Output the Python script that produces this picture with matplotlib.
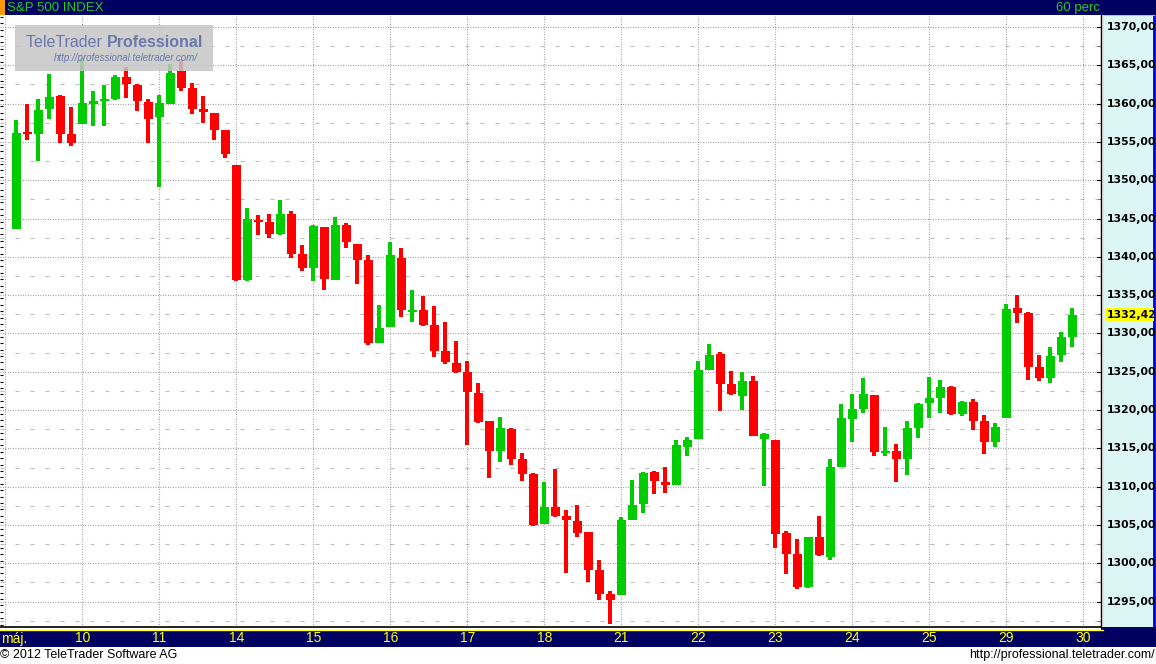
import numpy as np
import matplotlib
matplotlib.use("Agg")
import matplotlib.pyplot as plt
from matplotlib.patches import Rectangle
from matplotlib.transforms import blended_transform_factory
from matplotlib import font_manager

# hourly bars, S&P 500, 9 May .. 29 May 2012 (7 bars per day, first bar of 9 May off screen)
opens = [1343.7, 1356.3, 1356.0, 1359.3, 1361.0, 1356.0,
         1357.4, 1360.0, 1360.4, 1360.6, 1363.5, 1362.4, 1360.2,
         1358.3, 1360.0, 1364.3, 1362.0, 1359.3, 1358.8, 1356.6,
         1352.0, 1337.0, 1344.8, 1344.5, 1343.0, 1345.6, 1340.4,
         1338.5, 1343.9, 1337.0, 1344.2, 1341.7, 1339.6, 1328.8,
         1330.85, 1339.85, 1332.85, 1333.07, 1331.1, 1327.7, 1326.15,
         1325.0, 1322.2, 1318.6, 1314.7, 1317.5, 1313.6, 1311.7,
         1305.1, 1307.35, 1306.2, 1305.5, 1304.1, 1299.1, 1296.0,
         1295.9, 1305.7, 1307.7, 1311.9, 1310.6, 1310.2, 1315.2,
         1316.2, 1325.2, 1327.3, 1323.4, 1321.85, 1323.8, 1316.2,
         1316.1, 1304.0, 1301.2, 1296.9, 1303.4, 1300.8, 1312.6,
         1318.85, 1320.1, 1322.0, 1314.4, 1314.66, 1313.6, 1317.66,
         1320.9, 1321.6, 1323.0, 1319.5, 1321.06, 1318.6, 1315.85,
         1319.0, 1333.3, 1332.7, 1325.6, 1324.2, 1327.2, 1329.5]
highs = [1357.9, 1359.9, 1360.6, 1363.9, 1361.1, 1359.6,
         1365.9, 1361.6, 1362.4, 1363.7, 1364.8, 1362.6, 1360.6,
         1361.1, 1365.2, 1365.8, 1362.7, 1361.0, 1358.8, 1356.6,
         1352.0, 1346.4, 1345.5, 1345.6, 1347.4, 1346.0, 1341.5,
         1344.2, 1343.9, 1345.2, 1344.4, 1341.7, 1340.2, 1333.7,
         1341.9, 1341.15, 1335.7, 1334.9, 1333.6, 1331.5, 1329.0,
         1326.4, 1323.5, 1318.6, 1319.1, 1317.7, 1314.4, 1311.8,
         1310.6, 1312.3, 1307.0, 1307.6, 1304.1, 1300.4, 1296.4,
         1306.05, 1310.9, 1311.9, 1312.05, 1312.6, 1316.1, 1316.5,
         1326.4, 1328.6, 1327.6, 1325.1, 1325.0, 1324.45, 1317.0,
         1316.1, 1304.2, 1303.2, 1303.44, 1306.2, 1313.6, 1320.8,
         1322.1, 1324.2, 1322.0, 1317.8, 1315.6, 1318.6, 1320.9,
         1324.3, 1323.9, 1323.15, 1321.2, 1321.45, 1319.36, 1318.3,
         1333.85, 1335.0, 1332.8, 1327.2, 1328.2, 1330.2, 1333.3]
lows = [1343.6, 1355.3, 1352.5, 1358.0, 1354.8, 1354.5,
        1357.4, 1357.1, 1357.1, 1360.5, 1360.8, 1359.1, 1354.9,
        1349.1, 1360.0, 1361.6, 1358.65, 1357.5, 1355.25, 1352.9,
        1336.8, 1336.9, 1342.85, 1342.4, 1342.8, 1339.9, 1338.2,
        1336.9, 1335.7, 1337.0, 1341.1, 1336.5, 1328.5, 1328.8,
        1330.85, 1332.15, 1331.5, 1331.0, 1326.9, 1326.0, 1324.8,
        1315.4, 1318.3, 1311.1, 1313.2, 1312.8, 1310.75, 1304.9,
        1305.1, 1306.05, 1298.7, 1303.4, 1297.6, 1295.2, 1292.1,
        1295.9, 1305.7, 1306.6, 1309.05, 1309.2, 1310.2, 1314.0,
        1316.2, 1325.2, 1319.9, 1322.0, 1320.0, 1316.6, 1310.1,
        1302.0, 1298.6, 1296.65, 1296.8, 1301.0, 1300.4, 1312.6,
        1315.85, 1319.6, 1314.0, 1314.0, 1310.6, 1311.5, 1316.4,
        1319.0, 1319.6, 1319.4, 1319.2, 1317.4, 1314.3, 1315.2,
        1319.0, 1331.4, 1323.9, 1323.8, 1323.5, 1326.3, 1328.2]
closes = [1356.2, 1356.0, 1359.2, 1360.9, 1356.1, 1354.8,
          1360.1, 1360.3, 1360.6, 1363.5, 1362.5, 1360.3, 1358.0,
          1360.1, 1364.0, 1362.1, 1359.3, 1358.9, 1356.6, 1353.4,
          1337.0, 1344.9, 1344.6, 1343.0, 1345.6, 1340.4, 1338.5,
          1344.0, 1337.15, 1344.2, 1342.0, 1339.6, 1328.8, 1330.7,
          1340.2, 1333.1, 1333.07, 1331.1, 1327.7, 1326.3, 1325.0,
          1322.4, 1318.45, 1314.7, 1317.7, 1313.6, 1311.7, 1305.0,
          1307.35, 1306.2, 1305.7, 1304.0, 1299.1, 1296.0, 1295.2,
          1305.7, 1307.6, 1311.8, 1310.75, 1310.2, 1315.4, 1316.1,
          1325.2, 1327.2, 1323.4, 1322.1, 1323.8, 1316.6, 1316.9,
          1303.8, 1301.2, 1296.9, 1303.4, 1301.1, 1312.6, 1319.0,
          1320.15, 1322.1, 1314.5, 1314.66, 1313.6, 1317.66, 1320.8,
          1321.6, 1323.0, 1319.5, 1321.06, 1318.6, 1315.85, 1317.8,
          1333.2, 1332.7, 1325.6, 1324.2, 1327.06, 1329.5, 1332.42]
day_labels = ["máj.", "10", "11", "14", "15", "16", "17", "18",
              "21", "22", "23", "24", "25", "29", "30"]
bars_per_day = 7
price_ticks = np.arange(1295, 1371, 5)
last_price = closes[-1]

W, H = 1156, 664
NAVY = "#000060"
GREEN = "#00cc00"
RED = "#ff0000"

names = {f.name for f in font_manager.fontManager.ttflist}
narrow = "Liberation Sans Narrow" if "Liberation Sans Narrow" in names else "Liberation Sans"


def box(x0, y0, x1, y1):
    # pixel box, top-left origin -> figure fraction
    return (x0 / W, 1 - y1 / H), (x1 - x0) / W, (y1 - y0) / H


fig = plt.figure(figsize=(W / 100, H / 100), dpi=100, facecolor="white")

# main chart area
ax = fig.add_axes([0, (H - 627) / H, 1101 / W, 612 / H])
ax.set_facecolor("white")
ax.set_xlim(-1.482, 98.61)
ax.set_ylim(1291.69, 1371.57)

x = np.arange(len(opens))
o = np.array(opens)
c = np.array(closes)
cols = [GREEN if cc >= oo else RED for oo, cc in zip(o, c)]

# grid
for v in price_ticks:
    ax.axhline(v, color="#8c8c8c", lw=0.8, ls=(0, (0.75, 1.5)), zorder=0)
    ax.axhline(v - 2.5, color="#bdbdbd", lw=0.8, ls=(0, (3.6, 9.9)), zorder=0)
day_starts = [-1 + bars_per_day * k for k in range(len(day_labels))]
for d in day_starts:
    ax.axvline(d, color="#909090", lw=0.8, ls=(0, (0.75, 1.5)), zorder=0)

ax.vlines(x, lows, highs, colors=cols, lw=1.5, zorder=2, antialiased=False)
ax.bar(x, np.maximum(np.abs(c - o), 0.22), bottom=np.minimum(o, c), width=9 / 11,
       color=cols, linewidth=0, zorder=3, antialiased=False)

ax.set_xticks([])
ax.set_yticks([])
ax.set_yticks(np.arange(1292.0, 1371.6, 0.835), minor=True)
ax.tick_params(axis="y", which="minor", direction="in", length=2.5, width=0.8,
               color="black", left=True, labelleft=False)
for s in ["top", "left"]:
    ax.spines[s].set_visible(False)
ax.spines["bottom"].set_color("black")
ax.spines["bottom"].set_linewidth(1.2)
ax.spines["right"].set_color("black")
ax.spines["right"].set_linestyle((0, (0.8, 0.8)))
ax.spines["right"].set_linewidth(1.0)

# price scale panel
ax2 = fig.add_axes([1103 / W, (H - 627) / H, 51 / W, 612 / H])
ax2.set_facecolor("#dcf6f6")
ax2.set_xlim(0, 1)
ax2.set_ylim(ax.get_ylim())
ax2.set_xticks([])
ax2.set_yticks([])
ax2.spines["bottom"].set_visible(False)
ax2.spines["left"].set_color("#f2e8a0")
ax2.spines["top"].set_color("#f0c060")
ax2.spines["right"].set_color("#0000cc")
ax2.spines["right"].set_linewidth(2)
tr2 = blended_transform_factory(ax2.transAxes, ax2.transData)
for v in price_ticks:
    ax2.text(0.07, v, f"{v:.2f}".replace(".", ","), transform=tr2, va="center", ha="left",
             fontsize=7.8, fontweight="bold", color="black")
ax2.add_patch(Rectangle((0.03, last_price - 0.85), 0.97, 1.7, transform=tr2,
                        facecolor="#ffff00", edgecolor="none", zorder=3))
ax2.text(0.07, last_price, f"{last_price:.2f}".replace(".", ","), transform=tr2, va="center",
         ha="left", fontsize=7.8, fontweight="bold", color="black", zorder=4)

# small ticks between chart and panel
trm = blended_transform_factory(fig.transFigure, ax.transData)
for v in price_ticks:
    ax.plot([1097 / W, 1101 / W], [v, v], transform=trm, color="black", lw=0.8, clip_on=False)
    ax.plot([1098 / W, 1101 / W], [v - 2.5, v - 2.5], transform=trm, color="#777777", lw=0.8,
            clip_on=False)

# header bar
(xy, w, h) = box(0, 0, W, 15)
fig.add_artist(Rectangle(xy, w, h, transform=fig.transFigure, facecolor=NAVY, edgecolor="none"))
(xy, w, h) = box(0, 0, 5, 15)
fig.add_artist(Rectangle(xy, w, h, transform=fig.transFigure, facecolor="#ff9900", edgecolor="none"))
fig.text(7 / W, 1 - 8 / H, "S&P 500 INDEX", color="#22cc22", fontsize=9.5, family=narrow,
         va="center", ha="left")
fig.text(1100 / W, 1 - 8 / H, "60 perc", color="#22cc22", fontsize=9.5, family=narrow,
         va="center", ha="right")

# date bar
(xy, w, h) = box(0, 630, W, 647)
fig.add_artist(Rectangle(xy, w, h, transform=fig.transFigure, facecolor=NAVY, edgecolor="none"))
(xy, w, h) = box(1101, 627, W, 647)
fig.add_artist(Rectangle(xy, w, h, transform=fig.transFigure, facecolor=NAVY, edgecolor="none"))
fig.add_artist(plt.Line2D([0, 1103 / W], [1 - 629.8 / H, 1 - 629.8 / H], transform=fig.transFigure,
                          color="#ffff40", lw=1.0))
trd = blended_transform_factory(ax.transData, fig.transFigure)
for d, lab in zip(day_starts, day_labels):
    if d < 0:
        fig.text(1 / W, 1 - 638.5 / H, lab, color="#ffff00", fontsize=10, family=narrow,
                 va="center", ha="left", zorder=5)
    else:
        fig.text(d, 1 - 638.5 / H, lab, transform=trd, color="#ffff00", fontsize=10,
                 family=narrow, va="center", ha="center", zorder=5)

# footer
fig.text(0 / W, 1 - 655 / H, "© 2012 TeleTrader Software AG", color="black", fontsize=9,
         family="Liberation Sans", va="center", ha="left")
fig.text(1155 / W, 1 - 655 / H, "http://professional.teletrader.com/", color="black",
         fontsize=9, family="Liberation Sans", va="center", ha="right")

# watermark logo
(xy, w, h) = box(15, 25, 213, 71)
fig.add_artist(Rectangle(xy, w, h, transform=fig.transFigure, facecolor="#c6c6c6",
                         edgecolor="none", alpha=0.85))
t1 = fig.text(26 / W, 1 - 47 / H, "TeleTrader ", color="#6a78ac", fontsize=11.5,
              family="Liberation Sans", va="baseline", ha="left")
fig.add_artist(matplotlib.text.Annotation("Professional", xy=(1, 0), xycoords=t1,
                                          va="bottom", ha="left", color="#6a78ac",
                                          fontsize=11.5, fontweight="bold",
                                          family="Liberation Sans"))
fig.text(198 / W, 1 - 61 / H, "http://professional.teletrader.com/", color="#6a78ac",
         fontsize=7, style="italic", family="Liberation Sans", va="baseline", ha="right")

fig.savefig("out.png", dpi=100, facecolor="white")
